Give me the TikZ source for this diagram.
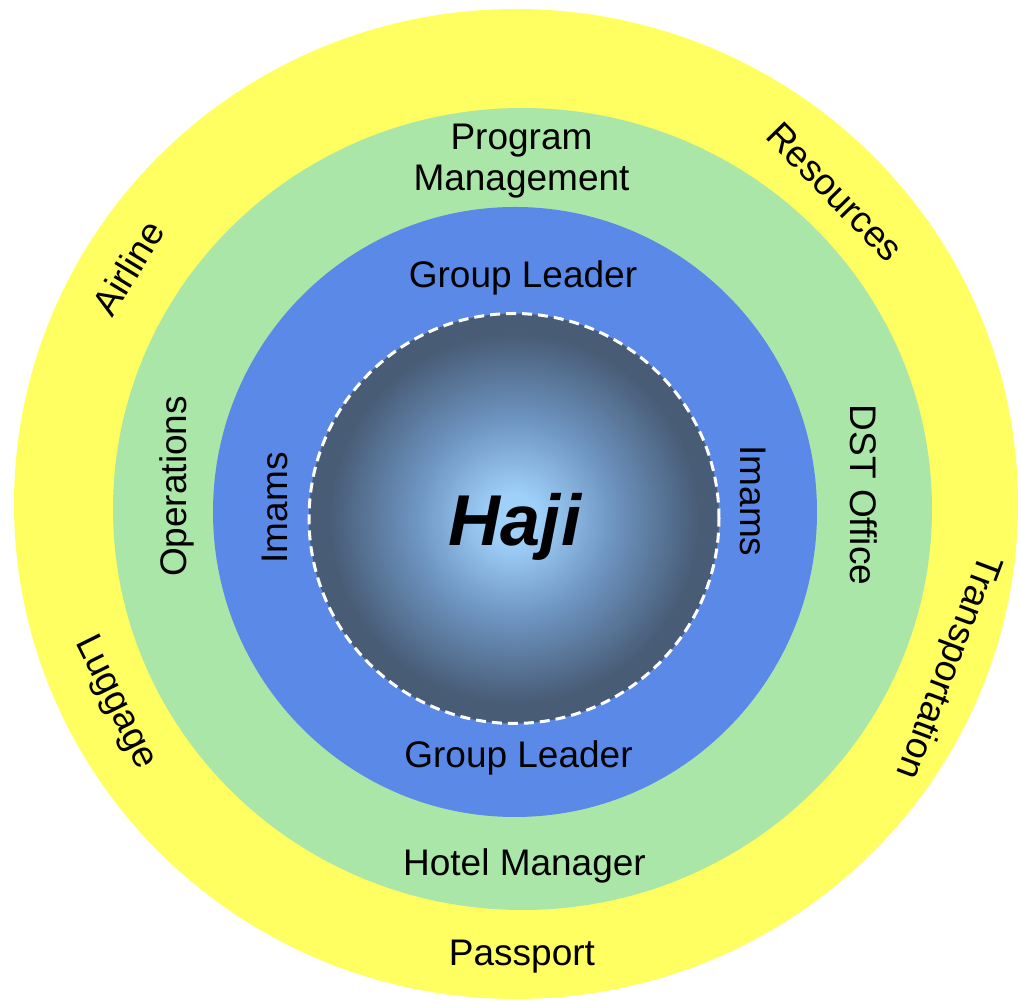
\documentclass[tikz,border=0pt]{standalone}
\usepackage{fontspec}
\setmainfont{Liberation Sans}
\definecolor{ringyellow}{RGB}{255,255,98}
\definecolor{ringgreen}{RGB}{170,230,168}
\definecolor{ringblue}{RGB}{90,137,232}
\definecolor{hcen}{RGB}{158,208,250}
\definecolor{hmid}{RGB}{108,146,190}
\definecolor{hedge}{RGB}{72,92,118}
\pgfdeclareradialshading{hajishade}{\pgfpoint{0bp}{0bp}}{color(0bp)=(hcen); color(3bp)=(hcen); color(12.5bp)=(hmid); color(22.5bp)=(hedge); color(50bp)=(hedge)}
\begin{document}
\begin{tikzpicture}[x=1pt,y=1pt,
  lbl/.style={font=\fontsize{37}{44}\selectfont, inner sep=0pt, text depth=0pt},
  hajilbl/.style={font=\fontsize{72}{80}\selectfont\bfseries\itshape, inner sep=0pt},
  ringline/.style={white, line width=3pt, dash pattern=on 10pt off 6pt}
]
\useasboundingbox (0,0) rectangle (1021,1001);
% rings
\fill[ringyellow] (516,497) ellipse [x radius=502, y radius=495];
\fill[ringgreen] (522.5,492) ellipse [x radius=409.5, y radius=401];
\fill[ringblue] (515,489) ellipse [x radius=302, y radius=305];
\shade[shading=hajishade] (514,482.5) circle [radius=205];
\draw[ringline] (514,482.5) circle [radius=205];
% centre
\node[hajilbl, anchor=base] (haji) at (515,455) {Haji};
% horizontal labels
\node[lbl, anchor=base] (prog) at (521.5,851) {Program};
\node[lbl, anchor=base] (mgmt) at (521.5,810) {Management};
\node[lbl, anchor=base] (gltop) at (523,713) {Group Leader};
\node[lbl, anchor=base] (glbot) at (518.5,233) {Group Leader};
\node[lbl, anchor=base] (hotel) at (524.5,125) {Hotel Manager};
\node[lbl, anchor=base] (pass) at (522,35) {Passport};
% vertical labels
\node[lbl, anchor=base, rotate=90] (imL) at (287,493) {Imams};
\node[lbl, anchor=base, rotate=90] (ops) at (186,514.5) {Operations};
\node[lbl, anchor=base, rotate=-90] (imR) at (740.5,500) {Imams};
\node[lbl, anchor=base, rotate=-90] (dst) at (850.5,506) {DST Office};
% outer ring labels
\node[lbl, rotate=58.7] (air) at (128,733) {Airline};
\node[lbl, rotate=-45.6] (res) at (835,809) {Resources};
\node[lbl, rotate=-110.7] (trans) at (951,333) {Transportation};
\node[lbl, rotate=-63.6] (lug) at (118.5,300) {Luggage};
\end{tikzpicture}
\end{document}
